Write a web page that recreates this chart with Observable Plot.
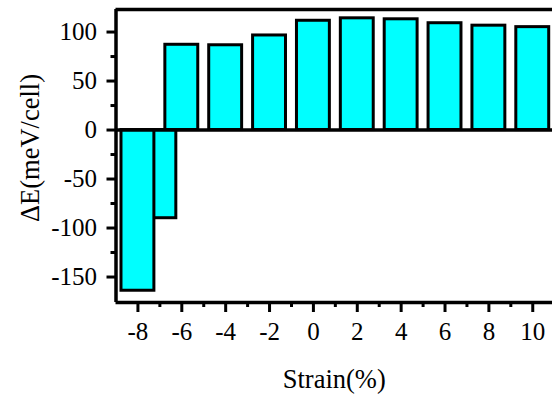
<!DOCTYPE html>
<html>
<head>
<meta charset="utf-8">
<script src="https://cdn.jsdelivr.net/npm/d3@7"></script>
<script src="https://cdn.jsdelivr.net/npm/@observablehq/plot@0.6"></script>
<style>
  html, body { margin: 0; padding: 0; background: #fff; overflow: hidden; }
</style>
</head>
<body>
<div id="chart"></div>
<script>
// Data (drawing order: -7 first so the -8 bar overlaps it)
const strain = [-7, -8, -6, -4, -2, 0, 2, 4, 6, 8, 10];
const deltaE = [-90, -164, 87, 86.5, 96.5, 111.5, 114, 113, 109, 106.5, 105];

const xTicks = [-8, -6, -4, -2, 0, 2, 4, 6, 8, 10];
const xMinorTicks = [-7, -5, -3, -1, 1, 3, 5, 7, 9];
const yTicks = [-150, -100, -50, 0, 50, 100];
const yMinorTicks = [-125, -75, -25, 25, 75];

const xTitle = "Strain(%)";
const yTitle = "ΔE(meV/cell)";

const barHalf = 0.75;
const bars = strain.map((s, i) => ({x1: s - barHalf, x2: s + barHalf, y: deltaE[i]}));

const font = "'Liberation Serif', 'Times New Roman', serif";

const chart = Plot.plot({
  width: 552,
  height: 403,
  marginLeft: 115.5,
  marginRight: 0,
  marginTop: 9,
  marginBottom: 101,
  style: {fontFamily: font, background: "#fff", color: "#000"},
  x: {domain: [-9, 10.9]},
  y: {domain: [-176, 123]},
  marks: [
    Plot.rectY(bars, {x1: "x1", x2: "x2", y: "y", fill: "#00FFFF", stroke: "#000", strokeWidth: 3}),
    Plot.ruleY([0], {stroke: "#000", strokeWidth: 3.5}),
    // frame: left, top, bottom
    Plot.ruleX([-9], {stroke: "#000", strokeWidth: 3.5}),
    Plot.ruleY([123], {stroke: "#000", strokeWidth: 3.5}),
    Plot.ruleY([-176], {stroke: "#000", strokeWidth: 3.5}),
    Plot.axisY({ticks: yTicks, tickSize: 9, tickPadding: 10, strokeWidth: 3, fontSize: 25, fontFamily: font, label: null, tickFormat: d => d < 0 ? "-" + Math.abs(d) : String(d)}),
    Plot.axisY({ticks: yMinorTicks, tickSize: 5, strokeWidth: 3, text: null, label: null}),
    Plot.axisX({ticks: xTicks, tickSize: 10, tickPadding: 10, strokeWidth: 3, fontSize: 25, fontFamily: font, label: null, tickFormat: d => d < 0 ? "-" + Math.abs(d) : String(d)}),
    Plot.axisX({ticks: xMinorTicks, tickSize: 5, strokeWidth: 3, text: null, label: null}),
    Plot.text([xTitle], {frameAnchor: "bottom", dy: 77, fontSize: 26.5, fontFamily: font, textAnchor: "middle", lineAnchor: "middle", fill: "#000"}),
    Plot.text([yTitle], {frameAnchor: "left", dx: -85, dy: -8, rotate: -90, fontSize: 26.5, fontFamily: font, textAnchor: "middle", lineAnchor: "middle", fill: "#000"})
  ]
});
document.getElementById("chart").appendChild(chart);
</script>
</body>
</html>
